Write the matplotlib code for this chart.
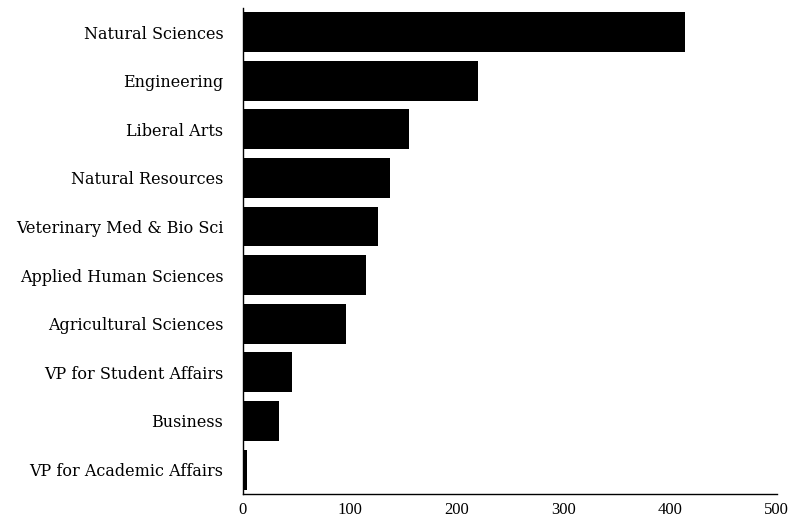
import matplotlib
matplotlib.use("Agg")
import matplotlib.pyplot as plt

# Colleges, listed bottom to top as they appear on the chart
colleges = ["VP for Academic Affairs", "Business", "VP for Student Affairs",
            "Agricultural Sciences", "Applied Human Sciences",
            "Veterinary Med & Bio Sci", "Natural Resources", "Liberal Arts",
            "Engineering", "Natural Sciences"]
counts = [4, 34, 46, 97, 115, 127, 138, 156, 220, 414]
xticks = [0, 100, 200, 300, 400, 500]

plt.rcParams["font.family"] = ["Liberation Serif", "DejaVu Serif"]

fig = plt.figure(figsize=(7.91, 5.21), dpi=100)
ax = fig.add_axes([0.307, 0.052, 0.675, 0.933])

ax.barh(range(len(colleges)), counts, height=0.82, color="black")

ax.set_xlim(0, 500)
ax.set_ylim(-0.5, len(colleges) - 0.5)
ax.set_xticks(xticks)
ax.set_yticks(range(len(colleges)))
ax.set_yticklabels(colleges, family="DejaVu Serif", fontsize=11.5)

ax.tick_params(axis="y", length=0, pad=14)
ax.tick_params(axis="x", length=0, pad=6, labelsize=12)

ax.spines["top"].set_visible(False)
ax.spines["right"].set_visible(False)
ax.spines["left"].set_linewidth(1)
ax.spines["bottom"].set_linewidth(1)

fig.savefig("out.png", dpi=100)
